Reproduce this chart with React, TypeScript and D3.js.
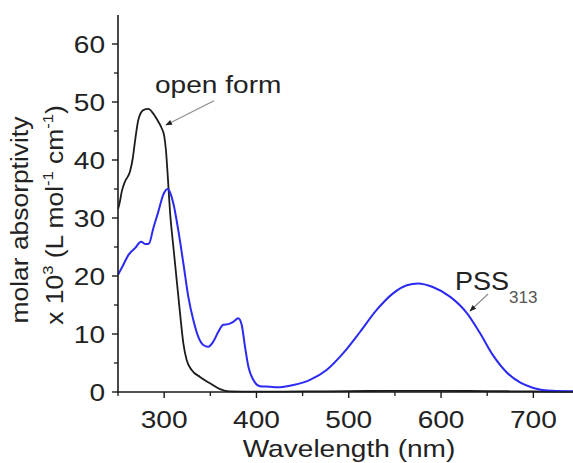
import React from "react";
import * as d3 from "d3";

const openWavelength = [250, 252, 254, 257.6, 263, 266, 268.4, 272, 277.4, 282.8, 288.2, 293.7, 297, 300, 302, 304, 306.3, 310, 313.6, 317.2, 320.8, 324.4, 329.8, 338.8, 349.7, 360.5, 371, 400, 450, 500, 550, 600, 650, 700, 750];
const openValues = [31.5, 32.8, 34.5, 36.3, 38, 40.3, 43.2, 46.9, 48.6, 48.8, 48, 46.6, 45.6, 44.2, 41.6, 37, 31.2, 25, 19.3, 13.6, 8.4, 5.5, 3.8, 2.6, 1.5, 0.5, 0.1, 0.05, 0.1, 0.15, 0.2, 0.2, 0.15, 0.1, 0.05];

const pssWavelength = [250, 255.7, 261.2, 268.4, 275, 280, 283.6, 288.2, 293.7, 299, 303.8, 307.4, 310, 315.3, 320.8, 326.2, 331.6, 337, 342.4, 347.8, 353.3, 358.7, 364.1, 369.5, 374.9, 380.3, 384, 387.6, 391.2, 396.6, 403.8, 414.7, 422, 440, 458, 476, 494, 512, 530, 548, 563, 575, 591, 610, 628, 642, 656, 671, 686, 700, 721, 750];
const pssValues = [20.2, 21.9, 23.6, 24.8, 25.9, 25.5, 25.6, 28.2, 31.1, 34, 35, 34, 32.5, 27.9, 22.2, 16.4, 12.4, 9.5, 8.1, 7.8, 8.7, 10.4, 11.6, 11.7, 12.1, 12.7, 11.6, 7.8, 4.4, 2.1, 1.0, 0.9, 0.8, 1.2, 2.1, 3.8, 6.7, 10.3, 14.1, 17, 18.4, 18.7, 18.1, 16.4, 13.6, 10.2, 6.4, 3.4, 1.6, 0.7, 0.2, 0.1];

const xMajorTicks = [300, 400, 500, 600, 700];
const xMinorTicks = [250, 350, 450, 550, 650, 750];
const yMajorTicks = [0, 10, 20, 30, 40, 50, 60];
const yMinorTicks = [5, 15, 25, 35, 45, 55];

const xTitle = "Wavelength (nm)";
const yTitle1 = "molar absorptivity";
const openLabel = "open form";
const pssLabel = "PSS";
const pssSub = "313";

const W = 573;
const H = 463;
const FONT = "'Liberation Sans', Arial, Helvetica, sans-serif";
const SX = 1.17;

export default function App() {
  const x = d3.scaleLinear().domain([250, 750]).range([118, 579.5]);
  const y = d3.scaleLinear().domain([0, 65]).range([392, 15]);

  const line = d3
    .line<[number, number]>()
    .x((d) => x(d[0]))
    .y((d) => y(d[1]))
    .curve(d3.curveMonotoneX);

  const openPath = line(openWavelength.map((w, i) => [w, openValues[i]]) as [number, number][]) || "";
  const pssPath = line(pssWavelength.map((w, i) => [w, pssValues[i]]) as [number, number][]) || "";

  const x0 = x(250);
  const y0 = y(0);
  const axisColor = "#1a1a1a";
  const textColor = "#222";

  return (
    <svg
      width={W}
      height={H}
      style={{ position: "absolute", left: 0, top: 0, background: "#fff" }}
      fontFamily={FONT}
    >
      <defs>
        <clipPath id="plot">
          <rect x={x0} y={0} width={W - x0} height={y0 + 1} />
        </clipPath>
        <marker id="arr" viewBox="0 0 10 10" refX="9" refY="5" markerWidth="7" markerHeight="6" orient="auto">
          <path d="M0,1 L10,5 L0,9 z" fill="#222" />
        </marker>
      </defs>
      <rect x={0} y={0} width={W} height={H} fill="#fff" />

      {/* curves */}
      <g clipPath="url(#plot)">
        <path d={openPath} fill="none" stroke="#1c1c1c" strokeWidth={1.8} />
        <path d={pssPath} fill="none" stroke="#2a2af2" strokeWidth={2} />
      </g>

      {/* axes */}
      <line x1={x0} x2={x0} y1={y(65)} y2={y0 + 1} stroke={axisColor} strokeWidth={1.6} />
      <line x1={x0} x2={W} y1={y0} y2={y0} stroke={axisColor} strokeWidth={1.6} />

      {yMajorTicks.map((t) => (
        <g key={"ym" + t}>
          <line x1={x0 - 6} x2={x0} y1={y(t)} y2={y(t)} stroke={axisColor} strokeWidth={1.4} />
          <text
            transform={`translate(${x0 - 13},${y(t) + 8.5}) scale(${SX},1)`}
            textAnchor="end"
            fontSize={24}
            fill={textColor}
          >
            {t}
          </text>
        </g>
      ))}
      {yMinorTicks.map((t) => (
        <line key={"yn" + t} x1={x0 - 4} x2={x0} y1={y(t)} y2={y(t)} stroke={axisColor} strokeWidth={1.3} />
      ))}
      {xMajorTicks.map((t) => (
        <g key={"xm" + t}>
          <line x1={x(t)} x2={x(t)} y1={y0} y2={y0 + 6} stroke={axisColor} strokeWidth={1.4} />
          <text
            transform={`translate(${x(t)},${428}) scale(${SX},1)`}
            textAnchor="middle"
            fontSize={24}
            fill={textColor}
          >
            {t}
          </text>
        </g>
      ))}
      {xMinorTicks.map((t) => (
        <line key={"xn" + t} x1={x(t)} x2={x(t)} y1={y0} y2={y0 + 4} stroke={axisColor} strokeWidth={1.3} />
      ))}

      {/* axis titles */}
      <text transform={`translate(349,457) scale(${SX},1)`} textAnchor="middle" fontSize={24} fill={textColor}>
        {xTitle}
      </text>
      <text transform={`translate(28,220) rotate(-90) scale(1.1,1)`} textAnchor="middle" fontSize={24} fill={textColor}>
        {yTitle1}
      </text>
      <text transform={`translate(63,215) rotate(-90) scale(1.1,1)`} textAnchor="middle" fontSize={24} fill={textColor}>
        <tspan>x 10</tspan>
        <tspan fontSize={15} dy={-10}>3</tspan>
        <tspan dy={10}> (L mol</tspan>
        <tspan fontSize={15} dy={-10}>-1</tspan>
        <tspan dy={10}> cm</tspan>
        <tspan fontSize={15} dy={-10}>-1</tspan>
        <tspan dy={10}>)</tspan>
      </text>

      {/* annotations */}
      <text transform={`translate(155,93.3) scale(${SX},1)`} fontSize={24} fill={textColor}>
        {openLabel}
      </text>
      <line x1={214} y1={100.7} x2={166} y2={125} stroke="#8a8a8a" strokeWidth={1.1} markerEnd="url(#arr)" />

      <text transform={`translate(455,290) scale(1.08,1)`} fontSize={25} fill={textColor}>
        {pssLabel}
      </text>
      <text x={509} y={303} fontSize={17} fill="#555">
        {pssSub}
      </text>
      <line x1={488} y1={294} x2={470} y2={311} stroke="#8a8a8a" strokeWidth={1.1} markerEnd="url(#arr)" />
    </svg>
  );
}
